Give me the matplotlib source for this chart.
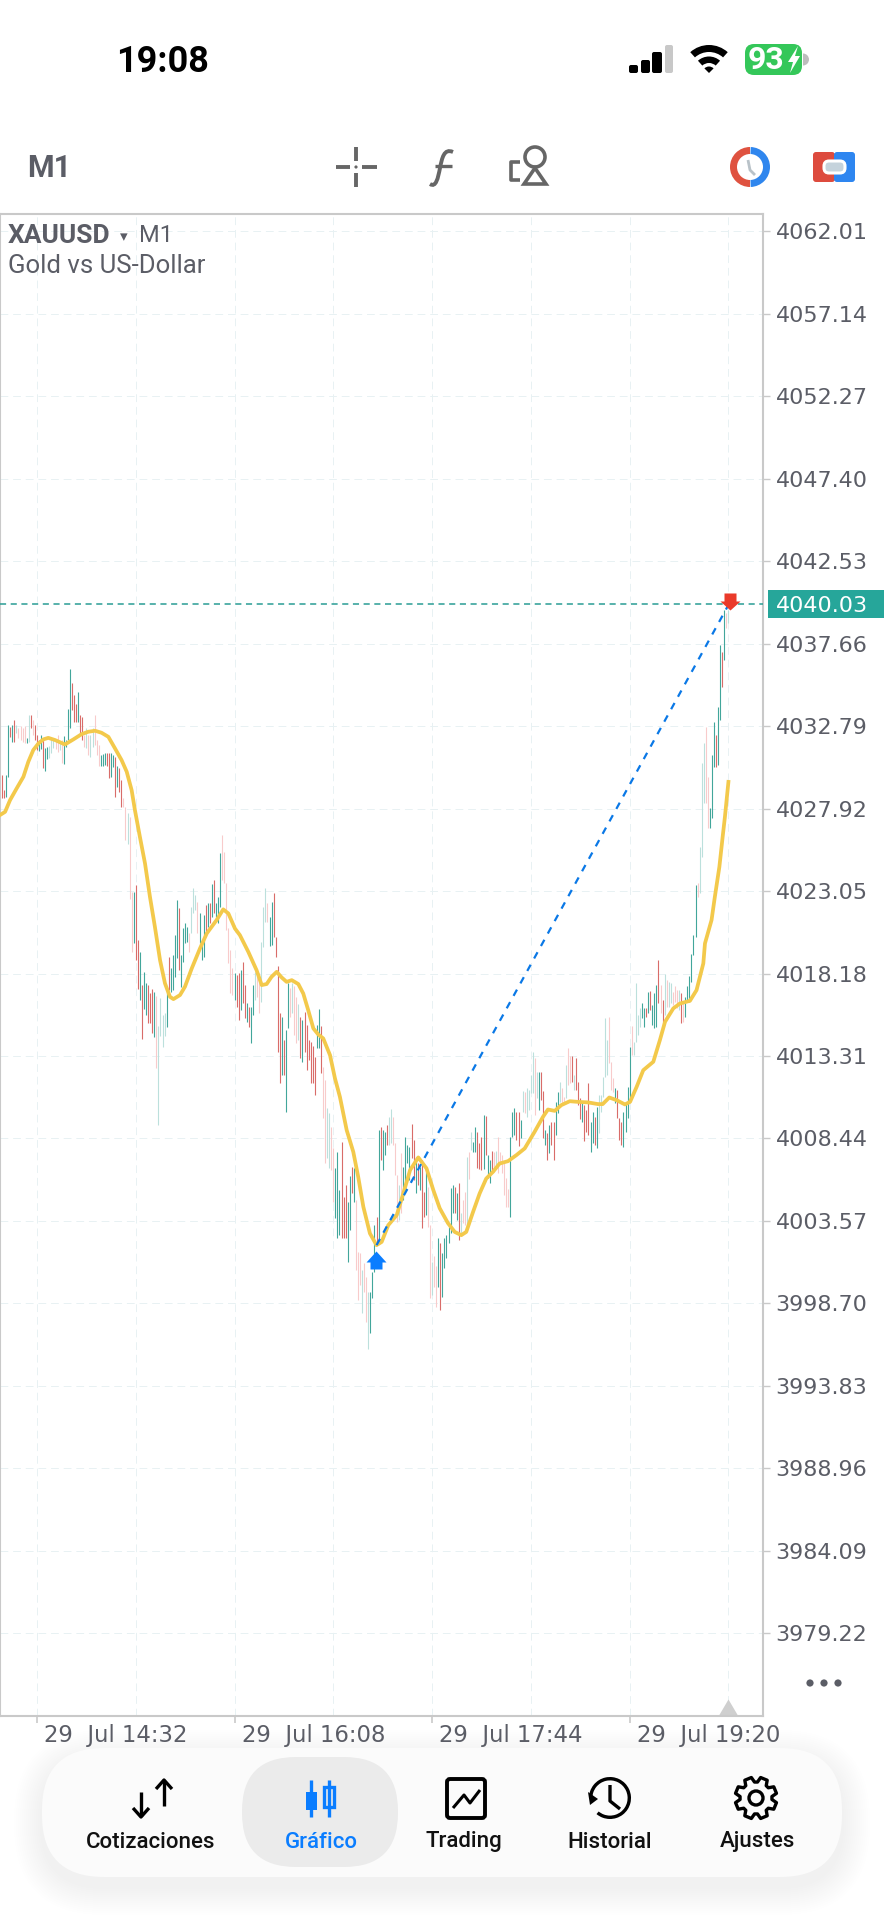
import numpy as np
import matplotlib
matplotlib.use('Agg')
import matplotlib.pyplot as plt
from matplotlib.patches import Rectangle, FancyBboxPatch, Circle, Wedge, Polygon, PathPatch
from matplotlib.path import Path

plt.rcParams['font.family'] = ['Roboto', 'DejaVu Sans']

#bar highs, one value for each minute bar
bar_high = [
    4029.90, 4029.01, 4029.90, 4032.85, 4032.73, 4032.85, 4033.15, 4032.85, 4032.68, 4032.79,
    4032.68, 4032.79, 4032.09, 4033.44, 4033.44, 4033.15, 4032.85, 4032.26, 4031.97, 4032.26,
    4031.97, 4031.50, 4031.56, 4031.62, 4032.14, 4031.97, 4031.97, 4032.26, 4031.79, 4031.97,
    4032.20, 4031.97, 4033.80, 4036.16, 4035.33, 4034.63, 4034.10, 4034.80, 4033.44, 4033.33,
    4032.26, 4032.68, 4032.26, 4032.26, 4032.68, 4033.44, 4031.97, 4031.67, 4031.08, 4031.14,
    4031.20, 4031.20, 4031.20, 4031.20, 4031.08, 4030.96, 4030.43, 4030.31, 4029.60, 4028.54,
    4028.01, 4027.66, 4027.42, 4022.99, 4022.99, 4023.40, 4020.16, 4019.44, 4017.50, 4018.26,
    4017.61, 4017.50, 4017.02, 4017.26, 4017.08, 4016.85, 4015.07, 4016.73, 4015.72, 4015.84,
    4017.20, 4019.15, 4018.50, 4019.27, 4020.45, 4022.52, 4022.04, 4019.27, 4020.86, 4021.16,
    4020.92, 4020.57, 4022.10, 4023.23, 4022.81, 4022.40, 4021.75, 4020.16, 4021.63, 4022.22,
    4022.34, 4022.34, 4023.46, 4023.70, 4022.34, 4022.69, 4025.29, 4026.36, 4025.35, 4023.52,
    4020.86, 4019.56, 4018.50, 4018.20, 4018.09, 4018.20, 4018.38, 4018.85, 4017.50, 4016.43,
    4016.20, 4016.20, 4017.50, 4018.26, 4018.38, 4018.20, 4020.04, 4022.10, 4023.23, 4022.34,
    4021.51, 4022.40, 4022.93, 4020.33, 4018.62, 4015.84, 4015.60, 4014.25, 4014.84, 4017.61,
    4017.32, 4017.61, 4017.44, 4016.79, 4016.37, 4015.60, 4015.43, 4015.90, 4015.13, 4014.25,
    4014.13, 4013.89, 4013.24, 4015.13, 4016.08, 4015.07, 4012.65, 4011.88, 4010.23, 4009.93,
    4009.11, 4007.87, 4006.69, 4007.63, 4005.39, 4008.22, 4004.97, 4005.68, 4004.68, 4006.21,
    4006.75, 4006.69, 4004.80, 4001.72, 4001.66, 4000.66, 4001.07, 4000.25, 3999.36, 3999.36,
    4000.54, 4003.32, 4003.79, 4008.93, 4009.11, 4008.93, 4008.81, 4009.23, 4009.70, 4010.17,
    4009.70, 4008.16, 4006.27, 4005.68, 4007.57, 4006.75, 4008.52, 4008.05, 4007.93, 4009.29,
    4008.34, 4007.34, 4006.98, 4006.75, 4007.16, 4005.27, 4006.45, 4005.56, 4003.32, 4001.13,
    4001.49, 4000.90, 4002.55, 4002.25, 4001.66, 4002.55, 4002.73, 4003.20, 4005.50, 4005.68,
    4005.56, 4005.21, 4005.80, 4004.03, 4004.80, 4005.27, 4007.34, 4007.63, 4008.81, 4008.22,
    4009.11, 4008.81, 4008.16, 4008.52, 4009.82, 4009.76, 4007.45, 4007.16, 4007.69, 4007.63,
    4007.69, 4008.52, 4007.63, 4007.45, 4006.98, 4006.10, 4005.45, 4008.52, 4010.00, 4010.23,
    4010.00, 4010.00, 4009.52, 4011.23, 4011.18, 4011.41, 4011.29, 4012.18, 4013.54, 4013.18,
    4012.36, 4012.36, 4012.36, 4011.23, 4008.93, 4008.75, 4009.23, 4009.40, 4009.40, 4010.59,
    4011.18, 4011.77, 4011.41, 4010.88, 4012.77, 4013.77, 4013.30, 4013.30, 4012.18, 4013.18,
    4011.77, 4010.82, 4010.59, 4010.41, 4010.11, 4011.71, 4009.40, 4010.00, 4009.70, 4010.29,
    4011.00, 4011.00, 4012.06, 4015.55, 4014.25, 4015.60, 4012.95, 4012.00, 4011.41, 4011.29,
    4009.64, 4009.40, 4010.00, 4010.53, 4011.47, 4013.83, 4015.07, 4014.13, 4017.61, 4015.72,
    4016.14, 4016.43, 4016.14, 4016.14, 4017.08, 4017.14, 4016.31, 4017.02, 4017.50, 4018.97,
    4017.50, 4016.61, 4018.15, 4017.79, 4017.67, 4017.61, 4017.08, 4017.44, 4017.20, 4017.20,
    4017.02, 4016.43, 4016.79, 4017.44, 4018.03, 4019.33, 4020.45, 4023.40, 4023.52, 4025.65,
    4030.61, 4031.79, 4032.73, 4029.78, 4027.95, 4031.08, 4033.03, 4032.26, 4033.92, 4037.58,
    4037.17, 4039.65, 4039.47, 4039.65,
]
#bar lows
bar_low = [
    4028.54, 4028.54, 4028.60, 4029.78, 4032.14, 4031.85, 4031.85, 4032.38, 4032.09, 4031.97,
    4031.85, 4031.79, 4031.79, 4031.85, 4032.68, 4032.26, 4031.97, 4031.38, 4031.32, 4031.44,
    4030.31, 4030.14, 4030.85, 4030.91, 4031.20, 4031.50, 4031.44, 4031.26, 4031.38, 4030.61,
    4030.55, 4031.56, 4031.97, 4032.68, 4033.74, 4033.03, 4033.03, 4033.03, 4032.26, 4031.97,
    4031.56, 4031.50, 4031.08, 4030.96, 4031.56, 4031.67, 4031.08, 4030.43, 4030.43, 4030.43,
    4030.49, 4030.43, 4029.72, 4029.78, 4030.37, 4028.60, 4029.19, 4028.90, 4028.01, 4028.01,
    4026.06, 4025.82, 4022.58, 4019.44, 4019.98, 4018.97, 4017.26, 4016.61, 4014.31, 4016.08,
    4015.72, 4015.25, 4015.25, 4014.66, 4014.42, 4012.59, 4009.23, 4014.48, 4013.83, 4014.48,
    4015.01, 4017.20, 4017.08, 4017.20, 4017.97, 4019.09, 4018.38, 4017.38, 4018.85, 4019.98,
    4020.04, 4019.44, 4020.57, 4021.75, 4021.93, 4020.57, 4019.98, 4018.97, 4019.15, 4020.57,
    4020.92, 4021.16, 4021.51, 4021.75, 4021.51, 4021.16, 4022.10, 4023.70, 4023.52, 4020.74,
    4018.79, 4017.02, 4016.91, 4016.61, 4016.20, 4015.43, 4016.02, 4016.43, 4015.55, 4015.31,
    4015.01, 4014.07, 4015.72, 4016.61, 4016.79, 4015.84, 4016.49, 4019.74, 4021.22, 4021.22,
    4019.80, 4019.86, 4020.33, 4019.15, 4013.54, 4011.71, 4012.18, 4012.18, 4010.00, 4014.96,
    4015.60, 4015.84, 4014.54, 4014.07, 4014.25, 4013.18, 4012.95, 4013.54, 4012.47, 4013.07,
    4011.71, 4011.71, 4011.00, 4013.77, 4013.77, 4012.30, 4009.64, 4006.98, 4007.28, 4006.69,
    4006.57, 4004.68, 4003.73, 4002.55, 4002.73, 4002.55, 4002.55, 4002.55, 4001.13, 4003.02,
    4005.21, 4004.68, 4000.66, 3998.89, 3999.77, 3998.12, 3999.36, 3997.59, 3996.00, 3996.94,
    3999.01, 4000.54, 4002.25, 4002.25, 4007.16, 4006.57, 4007.45, 4008.05, 4008.05, 4008.16,
    4008.05, 4006.27, 4003.50, 4003.62, 4004.03, 4004.80, 4005.21, 4006.98, 4005.98, 4007.28,
    4005.98, 4005.21, 4005.68, 4005.39, 4003.14, 4003.79, 4003.91, 4003.20, 3999.01, 3999.18,
    3999.66, 3998.47, 3999.66, 3998.30, 3999.07, 4000.78, 4001.37, 4002.25, 4002.85, 4004.03,
    4004.03, 4003.62, 4002.43, 4002.85, 4003.44, 4003.32, 4003.20, 4006.04, 4007.75, 4007.63,
    4007.63, 4006.69, 4006.63, 4006.57, 4006.63, 4007.45, 4006.10, 4005.80, 4006.39, 4006.45,
    4006.75, 4006.39, 4006.98, 4006.39, 4005.09, 4004.38, 4004.38, 4003.79, 4008.52, 4008.64,
    4008.34, 4007.99, 4008.46, 4010.00, 4009.93, 4009.70, 4010.11, 4011.12, 4011.12, 4009.82,
    4010.82, 4010.11, 4010.70, 4008.46, 4008.05, 4007.16, 4007.57, 4008.05, 4007.16, 4008.64,
    4009.93, 4010.59, 4010.41, 4010.53, 4010.82, 4011.59, 4011.71, 4011.77, 4011.29, 4011.29,
    4010.41, 4009.58, 4009.40, 4008.28, 4008.81, 4008.64, 4007.63, 4008.16, 4008.05, 4007.87,
    4008.75, 4010.00, 4010.88, 4012.06, 4012.18, 4012.89, 4011.29, 4011.18, 4010.53, 4009.64,
    4008.34, 4008.05, 4007.93, 4008.81, 4009.64, 4010.70, 4013.36, 4013.36, 4014.13, 4014.54,
    4015.01, 4015.55, 4015.01, 4015.60, 4015.84, 4016.02, 4015.13, 4014.96, 4015.01, 4016.43,
    4015.84, 4015.13, 4015.72, 4016.20, 4016.20, 4016.43, 4016.31, 4016.49, 4016.14, 4016.02,
    4015.25, 4015.31, 4015.60, 4016.61, 4016.49, 4017.67, 4019.27, 4020.33, 4022.69, 4022.93,
    4025.06, 4028.25, 4028.25, 4026.77, 4026.77, 4027.36, 4030.37, 4030.37, 4030.49, 4033.15,
    4035.10, 4036.69, 4038.58, 4038.88,
]
#T up, R down, t and r are the faded ones
bar_kind = (
    'RRTTRTRtrr' 'rrTtRrRRTT' 'RTTtttrrtr' 'TTTTRRRTRR' 'rtrttrrrTT' 'TRRTTRTRRr' 'rtrrTRRTRT'
    'TRRRTrtttt' 'TRTTTTRTTT' 'TrtttrTTTR' 'TRTRTTTrrr' 'rrrTRRTRRT' 'RTTtrrtttr' 'TTRRRRTRTT'
    'rtrrtRTRRR' 'RRRTTRrrtt' 'rrTTTRRRTT' 'RTrrrtrrtT' 'TTRTRTTRtt' 'rrrtrTTTTR' 'RTRTRRTrrt'
    'rrTRTTTTTT' 'RTRtrrtrtT' 'TRRRTRTTRr' 'trrrrrrTTT' 'RRTtrttttr' 'tTRRTRTRRT' 'TtrrtrrRtR'
    'RRTRRRTTRT' 'tttttrrrTR' 'RRTTTTrttt' 'tTTRTRTTTR' 'rRtrttrrrt' 'RrTTTTTTrt' 'ttrrTTTRTT'
    'RTrt'
)
#moving average, read at these bars
ma_bar = [
    -1, 1.5, 3.9, 7.1, 10.4, 12.8, 15.2, 17.7, 20.1, 22.5, 25.8, 30.6, 34.7, 38.7, 41.9, 45.2,
    48.4, 51.7, 54.9, 58.1, 60.6, 63, 64.6, 67, 69.5, 71.9, 74.3, 76.8, 79.2, 81.6, 83.3, 86.5,
    88.9, 92.2, 96.2, 99.5, 104.3, 107.5, 110, 113.2, 115.6, 119.7, 123.7, 126.2, 128.6, 131,
    133.5, 135.9, 138.3, 140.8, 144, 146.4, 148.8, 151.3, 153.7, 156.1, 159.4, 161.8, 164.2,
    167.5, 170.7, 173.1, 175.6, 178.8, 182, 184.5, 187.7, 191.8, 195, 198.3, 202.3, 206.3,
    209.6, 212.7, 216.7, 220, 223.2, 225.6, 228.9, 232.1, 235.3, 238.6, 241.8, 245.9, 249.9,
    254, 258.8, 262.9, 265.3, 268.6, 271.8, 275.9, 279.9, 284.8, 289.6, 291.9, 295.1, 298.7,
    302.7, 305.2, 308.4, 311.6, 316.5, 319.7, 322.2, 326.2, 329.4, 334.3, 337.5, 340.8, 341.6,
    344.8, 346.4, 348.6, 350.2, 351.3, 353,
]
ma_value = [
    4027.54, 4027.73, 4028.42, 4029.11, 4029.80, 4030.69, 4031.38, 4031.77, 4032.01, 4032.10,
    4031.97, 4031.71, 4032.01, 4032.32, 4032.46, 4032.52, 4032.40, 4032.16, 4031.48, 4030.79,
    4030.10, 4029.01, 4027.83, 4026.26, 4024.68, 4022.71, 4020.94, 4018.97, 4017.60, 4016.81,
    4016.67, 4016.91, 4017.40, 4018.48, 4019.66, 4020.55, 4021.34, 4021.97, 4021.73, 4020.84,
    4020.45, 4019.46, 4018.38, 4017.50, 4017.56, 4017.99, 4018.28, 4017.95, 4017.69, 4017.79,
    4017.56, 4017.00, 4016.02, 4014.94, 4014.58, 4014.35, 4013.36, 4011.99, 4010.90, 4008.93,
    4007.65, 4006.17, 4004.40, 4002.83, 4002.14, 4002.33, 4003.32, 4003.91, 4005.19, 4006.57,
    4007.32, 4006.67, 4005.39, 4004.32, 4003.44, 4002.92, 4002.73, 4002.92, 4004.10, 4005.19,
    4006.07, 4006.47, 4006.96, 4007.10, 4007.45, 4007.85, 4008.83, 4009.72, 4010.15, 4010.07,
    4010.41, 4010.64, 4010.60, 4010.57, 4010.47, 4010.47, 4010.86, 4010.70, 4010.45, 4010.60,
    4011.49, 4012.47, 4012.97, 4014.25, 4015.33, 4016.12, 4016.41, 4016.57, 4017.20, 4018.78,
    4019.96, 4021.34, 4022.71, 4024.48, 4026.26, 4027.44, 4029.50,
]
price_ticks = [
    4062.01, 4057.14, 4052.27, 4047.40, 4042.53, 4037.66, 4032.79, 4027.92, 4023.05,
    4018.18, 4013.31, 4008.44, 4003.57, 3998.70, 3993.83, 3988.96, 3984.09, 3979.22,
]
time_bars = [17, 113, 209, 305]
time_labels = ['29  Jul 14:32', '29  Jul 16:08', '29  Jul 17:44', '29  Jul 19:20']
grid_bars = [17, 65, 113, 161, 209, 257, 305, 353]
last_price = 4040.03
trade_bar = [182, 353]
trade_price = [4002.14, 4039.95]
nav_labels = ['Cotizaciones', 'Gráfico', 'Trading', 'Historial', 'Ajustes']

GRAY = '#5b5d66'
ICON = '#666666'
BORDER = '#c9c9c9'
BLUE = '#0a7dff'
bar_colors = {'T': '#42a69b', 'R': '#d96c69', 't': '#bce0dc', 'r': '#f8cbcb'}

fig = plt.figure(figsize=(8.86, 19.2), dpi=100, facecolor='white')

#everything around the chart is drawn on this one, in pixels
ui = fig.add_axes([0, 0, 1, 1], zorder=0)
ui.set_xlim(0, 886)
ui.set_ylim(1920, 0)
ui.axis('off')

def rrect(x0, y0, x1, y1, r, **kw):
    p = FancyBboxPatch((x0 + r, y0 + r), x1 - x0 - 2 * r, y1 - y0 - 2 * r,
                       boxstyle='round,pad=%f,rounding_size=%f' % (r, r), **kw)
    ui.add_patch(p)
    return p

def stroke(xs, ys, color=ICON, lw=2.6, cap='butt'):
    ui.plot(xs, ys, color=color, lw=lw, solid_capstyle=cap, solid_joinstyle='round')

#status bar
ui.text(116, 62, '19:08', fontsize=26, fontweight='bold', color='black', va='center', ha='left')
for x0, x1, top, col in [(629, 638, 65, 'black'), (641, 650, 60, 'black'),
                         (652, 662, 52, 'black'), (665, 673, 45, '#c8c8c8')]:
    rrect(x0, top, x1, 73, 2, fc=col, ec='none')
for r0, r1 in [(21, 28), (10, 16.5)]:
    ui.add_patch(Wedge((709, 73), r1, 228, 312, width=r1 - r0, fc='black', ec='none'))
ui.add_patch(Wedge((709, 73), 6.5, 225, 315, fc='black', ec='none'))
rrect(745, 44, 802, 75, 9, fc='#34c759', ec='none')
ui.add_patch(Wedge((803, 59.5), 6, 270, 90, fc='#bdbdbd', ec='none'))
ui.text(748, 60, '93', fontsize=23, fontweight='bold', color='white', va='center', ha='left')
ui.add_patch(Polygon([(798, 46), (788, 62), (793, 62), (790, 73), (800, 56), (795, 56)], fc='white', ec='none'))

#top toolbar
ui.text(27, 168, 'M1', fontsize=22, fontweight='bold', color=GRAY, va='center', ha='left')
stroke([336, 350], [167, 167], lw=2.8)
stroke([362, 377], [167, 167], lw=2.8)
stroke([356, 356], [147, 161], lw=2.8)
stroke([356, 356], [173, 187], lw=2.8)
ui.add_patch(Circle((356, 167), 1.6, fc=ICON, ec='none'))
f_path = Path([(453, 152), (444, 148), (442, 158), (440, 168), (438, 178), (436, 188), (430, 184)],
              [Path.MOVETO, Path.CURVE4, Path.CURVE4, Path.CURVE4, Path.CURVE4, Path.CURVE4, Path.CURVE4])
ui.add_patch(PathPatch(f_path, fc='none', ec=ICON, lw=2.8))
stroke([435, 452], [166, 166], lw=2.4)
ui.add_patch(Circle((535, 157), 10, fc='none', ec=ICON, lw=2.6))
ui.add_patch(Polygon([(535, 168), (546, 184), (524, 184)], fc='white', ec=ICON, lw=2.6))
stroke([520, 511, 511, 520], [162, 162, 180, 180], lw=2.6)
ui.add_patch(Wedge((750, 167), 20, 90, 270, width=7, fc='#df5240', ec='none'))
ui.add_patch(Wedge((750, 167), 20, 272, 88, width=7, fc='#2f86ee', ec='none'))
stroke([748, 750, 755], [160, 170, 175], color='#b9c2c8', lw=2)
rrect(813, 152, 835, 182, 3, fc='#dd4b3e', ec='none')
rrect(834, 152, 855, 182, 3, fc='#2e86f0', ec='none')
rrect(824, 161, 845, 173, 5, fc='#c5d3dc', ec='white', lw=2.2)

#chart
ax = fig.add_axes([0, (1920 - 1716) / 1920, 763 / 886, 1502 / 1920], zorder=1)
ax.set_xlim(-0.97, 369.8)
ax.set_ylim(3974.33, 4063.04)
for s in ax.spines.values():
    s.set_color(BORDER)
    s.set_linewidth(1.5)
ax.yaxis.tick_right()
ax.set_yticks(price_ticks)
ax.set_yticklabels(['%.2f' % p for p in price_ticks], fontfamily='DejaVu Sans', fontsize=16, color=GRAY)
ax.set_xticks(time_bars)
ax.set_xticklabels(time_labels, fontfamily='DejaVu Sans', fontsize=16.4, color=GRAY, ha='left')
ax.tick_params(axis='y', length=5, width=1, color=BORDER, pad=4)
ax.tick_params(axis='x', length=5, width=1.2, color=BORDER, pad=1)
for lab in ax.get_xticklabels():
    lab.set_transform(lab.get_transform() + matplotlib.transforms.ScaledTranslation(7 / 100, 0, fig.dpi_scale_trans))

for p in price_ticks:
    ax.axhline(p, color='#e8f1f3', lw=0.7, ls=(0, (8, 5)), zorder=1)
for b in grid_bars:
    ax.axvline(b, color='#e8f1f3', lw=0.7, ls=(0, (8, 5)), zorder=1)

bar_x = np.arange(len(bar_high))
ax.vlines(bar_x, bar_low, bar_high, colors=[bar_colors[k] for k in bar_kind], lw=0.8, zorder=2)
ax.plot(ma_bar, ma_value, color='#f3c94b', lw=2.7, zorder=3, solid_joinstyle='round')
ax.axhline(last_price, color='#2a9d94', lw=1.1, ls=(0, (4, 3)), zorder=4)
ax.plot(trade_bar, trade_price, color='#0a78e6', lw=1.6, ls=(0, (3.2, 3.2)), zorder=4)

#trade arrows, origin of each shape is its tip
up_arrow = Path([(0, 0), (10, -11), (6, -11), (6, -18), (-6, -18), (-6, -11), (-10, -11), (0, 0)], closed=True)
down_arrow = Path([(0, 0), (10, 9), (6, 9), (6, 17), (-6, 17), (-6, 9), (-10, 9), (0, 0)], closed=True)
scroll_mark = Path([(-10, 0), (10, 0), (0, 17), (-10, 0)], closed=True)
ax.plot([trade_bar[0] - 0.4], [4002.14 - 0.35], marker=up_arrow, ms=25.9, color=BLUE, mew=0, zorder=5)
ax.plot([trade_bar[1] + 0.6], [last_price - 0.38], marker=down_arrow, ms=24.5, color='#ea3a2a', mew=0, zorder=5)
ax.plot([353], [3974.33], marker=scroll_mark, ms=24.5, color='#cfcfcf', mew=0, zorder=2)

#last price tag
tr = ax.get_yaxis_transform()
ax.add_patch(Rectangle((768 / 763, last_price - 0.83), 116 / 763, 1.66, transform=tr, fc='#26a69a', ec='none', clip_on=False))
ax.text(776 / 763, last_price, '%.2f' % last_price, transform=tr, color='white', fontfamily='DejaVu Sans',
        fontsize=16, va='center_baseline', ha='left', clip_on=False)

ax.text(8 / 763, 1 - 22 / 1502, 'XAUUSD', transform=ax.transAxes, fontsize=19, fontweight='bold', color=GRAY, va='center', ha='left')
ax.text(8 / 763, 1 - 52 / 1502, 'Gold vs US-Dollar', transform=ax.transAxes, fontsize=18.5, color=GRAY, va='center', ha='left')
ax.text(124 / 763, 1 - 23 / 1502, '▾', transform=ax.transAxes, fontfamily='DejaVu Sans', fontsize=11, color=GRAY, va='center', ha='center')
ax.text(139 / 763, 1 - 22 / 1502, 'M1', transform=ax.transAxes, fontsize=17, color=GRAY, va='center', ha='left')

#three dots next to the price scale
for x in [810, 824, 838]:
    ui.add_patch(Circle((x, 1683), 3.6, fc=GRAY, ec='none'))

#bottom navigation
for i in range(14):
    grow = 28 - 2 * i
    rrect(42 - grow, 1748 - grow + 10, 842 + grow, 1877 + grow + 10, 62 + grow, fc='#000000', alpha=0.0025, ec='none')
rrect(42, 1748, 842, 1877, 62, fc='#fbfbfb', ec='none')
rrect(242, 1757, 398, 1867, 54, fc='#ebebeb', ec='none')
for x, name in zip([151, 321, 464, 610, 757], nav_labels):
    col = BLUE if name == 'Gráfico' else '#111111'
    ui.text(x, 1842, name, fontsize=16, fontweight='medium', color=col, va='center', ha='center')

#quotes arrows
stroke([141, 141], [1792, 1816], color='black', lw=2.4)
stroke([133, 141, 149], [1808, 1817, 1808], color='black', lw=2.4)
stroke([164, 164], [1781, 1806], color='black', lw=2.4)
stroke([156, 164, 172], [1789, 1780, 1789], color='black', lw=2.4)
#chart icon
stroke([311, 311], [1780, 1817], color=BLUE, lw=2.4)
ui.add_patch(Rectangle((306, 1792), 11, 18, fc=BLUE, ec='none'))
stroke([329, 329], [1780, 1817], color=BLUE, lw=2.4)
ui.add_patch(Rectangle((324, 1787), 10, 20, fc='#ebebeb', ec=BLUE, lw=2.4))
#trading icon
rrect(447, 1779, 485, 1818, 3, fc='none', ec='black', lw=2.8)
stroke([453, 464, 470, 480], [1808, 1795, 1803, 1790], color='black', lw=2.2)
#history icon
ui.add_patch(Wedge((610, 1798), 21, 180, 130 + 360, width=3.4, fc='black', ec='none'))
ui.add_patch(Polygon([(588, 1792), (598, 1799), (590, 1805)], fc='black', ec='none'))
stroke([610, 610, 620], [1785, 1801, 1809], color='black', lw=2.4)
#settings icon
t = np.linspace(0, 2 * np.pi, 8, endpoint=False)
gear = []
for a in t:
    for da, r in [(-0.30, 16), (-0.17, 21), (0.17, 21), (0.30, 16)]:
        gear.append((756 + r * np.cos(a + da + np.pi / 8), 1798 + r * np.sin(a + da + np.pi / 8)))
ui.add_patch(Polygon(gear, fc='none', ec='black', lw=2.4, joinstyle='round'))
ui.add_patch(Circle((756, 1798), 7, fc='none', ec='black', lw=2.4))

fig.savefig('out.png', dpi=100)
